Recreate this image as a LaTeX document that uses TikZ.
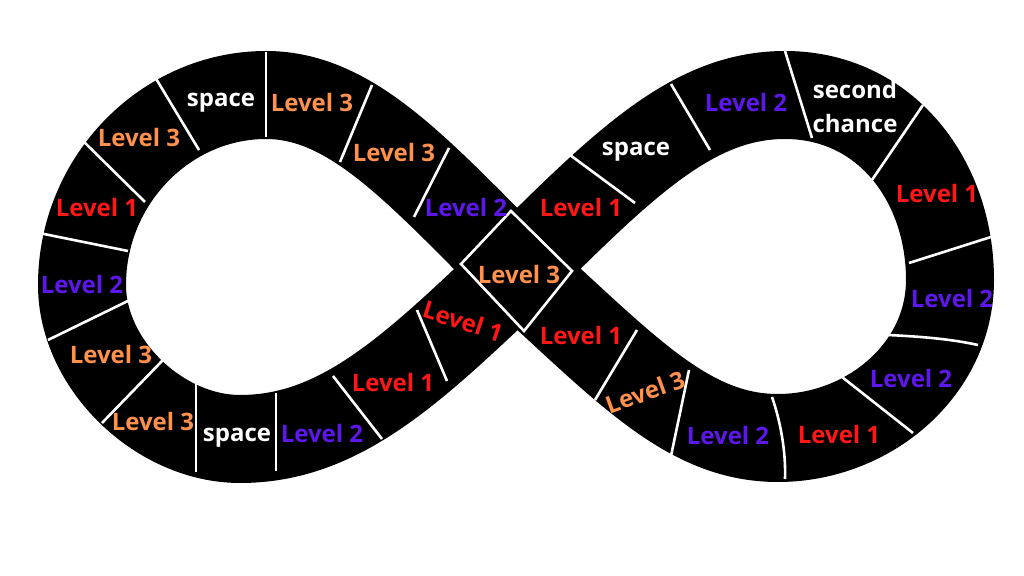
\documentclass[tikz,border=0pt]{standalone}
\usepackage{fontspec}
\setmainfont{Open Sans}
\definecolor{lvlred}{HTML}{FF1616}
\definecolor{lvlpurple}{HTML}{5E17EB}
\definecolor{lvlorange}{HTML}{FF914D}

\tikzset{every picture/.style={line width=0.75pt}}
\tikzset{
  band/.style={draw=black, line width=44pt, line join=round},
  divider/.style={draw=white, line width=1.3pt},
  cell/.style={font=\bfseries\fontsize{12}{17}\selectfont, inner sep=0.5pt, align=center},
  l1/.style={cell, text=lvlred},
  l2/.style={cell, text=lvlpurple},
  l3/.style={cell, text=lvlorange},
  free/.style={cell, text=white}
}

\begin{document}
\begin{tikzpicture}[x=0.5pt,y=0.5pt,yscale=-1,xscale=1]
    \useasboundingbox (0,0) rectangle (1024,576);

    %Band (centre line of the figure eight)
    \coordinate (C) at (517,270);
    \draw [band] (C) .. controls (627,160) and (695,95) .. (785,95)
      .. controls (885,95) and (950,180) .. (950,280)
      .. controls (950,370) and (868,438) .. (778,438)
      .. controls (688,438) and (627,370) .. (C)
      .. controls (417,170) and (351,95) .. (266,95)
      .. controls (166,95) and (82,180) .. (82,285)
      .. controls (82,365) and (160,439) .. (240,439)
      .. controls (340,439) and (412,370) .. (C) -- cycle;

    %Dividers left loop
    \draw [divider] (155,77) -- (199,150) ;
    \draw [divider] (266,52) -- (266,137) ;
    \draw [divider] (372,85) -- (340,162) ;
    \draw [divider] (449,148) -- (414,217) ;
    \draw [divider] (80,138) -- (145,202) ;
    \draw [divider] (39,233) -- (128,251) ;
    \draw [divider] (48,340) -- (132,299) ;
    \draw [divider] (163,360) -- (102,423) ;
    \draw [divider] (196,383) -- (196,472) ;
    \draw [divider] (276,393) -- (276,471) ;
    \draw [divider] (333,376) -- (382,439) ;
    \draw [divider] (417,310) -- (447,381) ;
    %Dividers right loop
    \draw [divider] (570,155) -- (635,203) ;
    \draw [divider] (671,84) -- (710,150) ;
    \draw [divider] (785,51) -- (812,138) ;
    \draw [divider] (923,105) -- (872,180) ;
    \draw [divider] (991,237) -- (909,263) ;
    \draw [divider] (888,335) .. controls (930,337) and (955,340) .. (978,345) ;
    \draw [divider] (842,377) -- (913,433) ;
    \draw [divider] (772,397) .. controls (780,420) and (786,450) .. (785,479) ;
    \draw [divider] (689,370) -- (671,456) ;
    \draw [divider] (637,330) -- (595,400) ;
    %Centre cell
    \draw [divider] (461,264) -- (511,211) -- (572,271) -- (524,331) -- cycle ;

    % Text Nodes left loop
    \node [free] (spaceA) at (221,103) {space};
    \node [l3] (topA) at (312,103) {Level 3};
    \node [l3] (topB) at (139,138) {Level 3};
    \node [l3] (topC) at (394,153) {Level 3};
    \node [l2] (topD) at (466,208) {Level 2};
    \node [l1] (sideA) at (97,208) {Level 1};
    \node [l2] (sideB) at (82,285) {Level 2};
    \node [l3] (sideC) at (111,355) {Level 3};
    \node [l3] (lowA) at (153,422) {Level 3};
    \node [free] (spaceB) at (237,438) {space};
    \node [l2] (lowB) at (322,434) {Level 2};
    \node [l1] (lowC) at (393,383) {Level 1};
    \node [l1, rotate=-18] (lowD) at (463,321) {Level 1};
    % Text Node centre
    \node [l3] (mid) at (519,275) {Level 3};
    % Text Nodes right loop
    \node [l1] (upA) at (581,208) {Level 1};
    \node [free] (spaceC) at (636,152) {space};
    \node [l2] (upB) at (746,103) {Level 2};
    \node [free] (second) at (855,107) {second\\chance};
    \node [l1] (rimA) at (937,194) {Level 1};
    \node [l2] (rimB) at (952,299) {Level 2};
    \node [l2] (rimC) at (911,379) {Level 2};
    \node [l1] (downA) at (839,435) {Level 1};
    \node [l2] (downB) at (728,436) {Level 2};
    \node [l3, rotate=20] (downC) at (645,392) {Level 3};
    \node [l1] (downD) at (581,336) {Level 1};

\end{tikzpicture}
\end{document}
